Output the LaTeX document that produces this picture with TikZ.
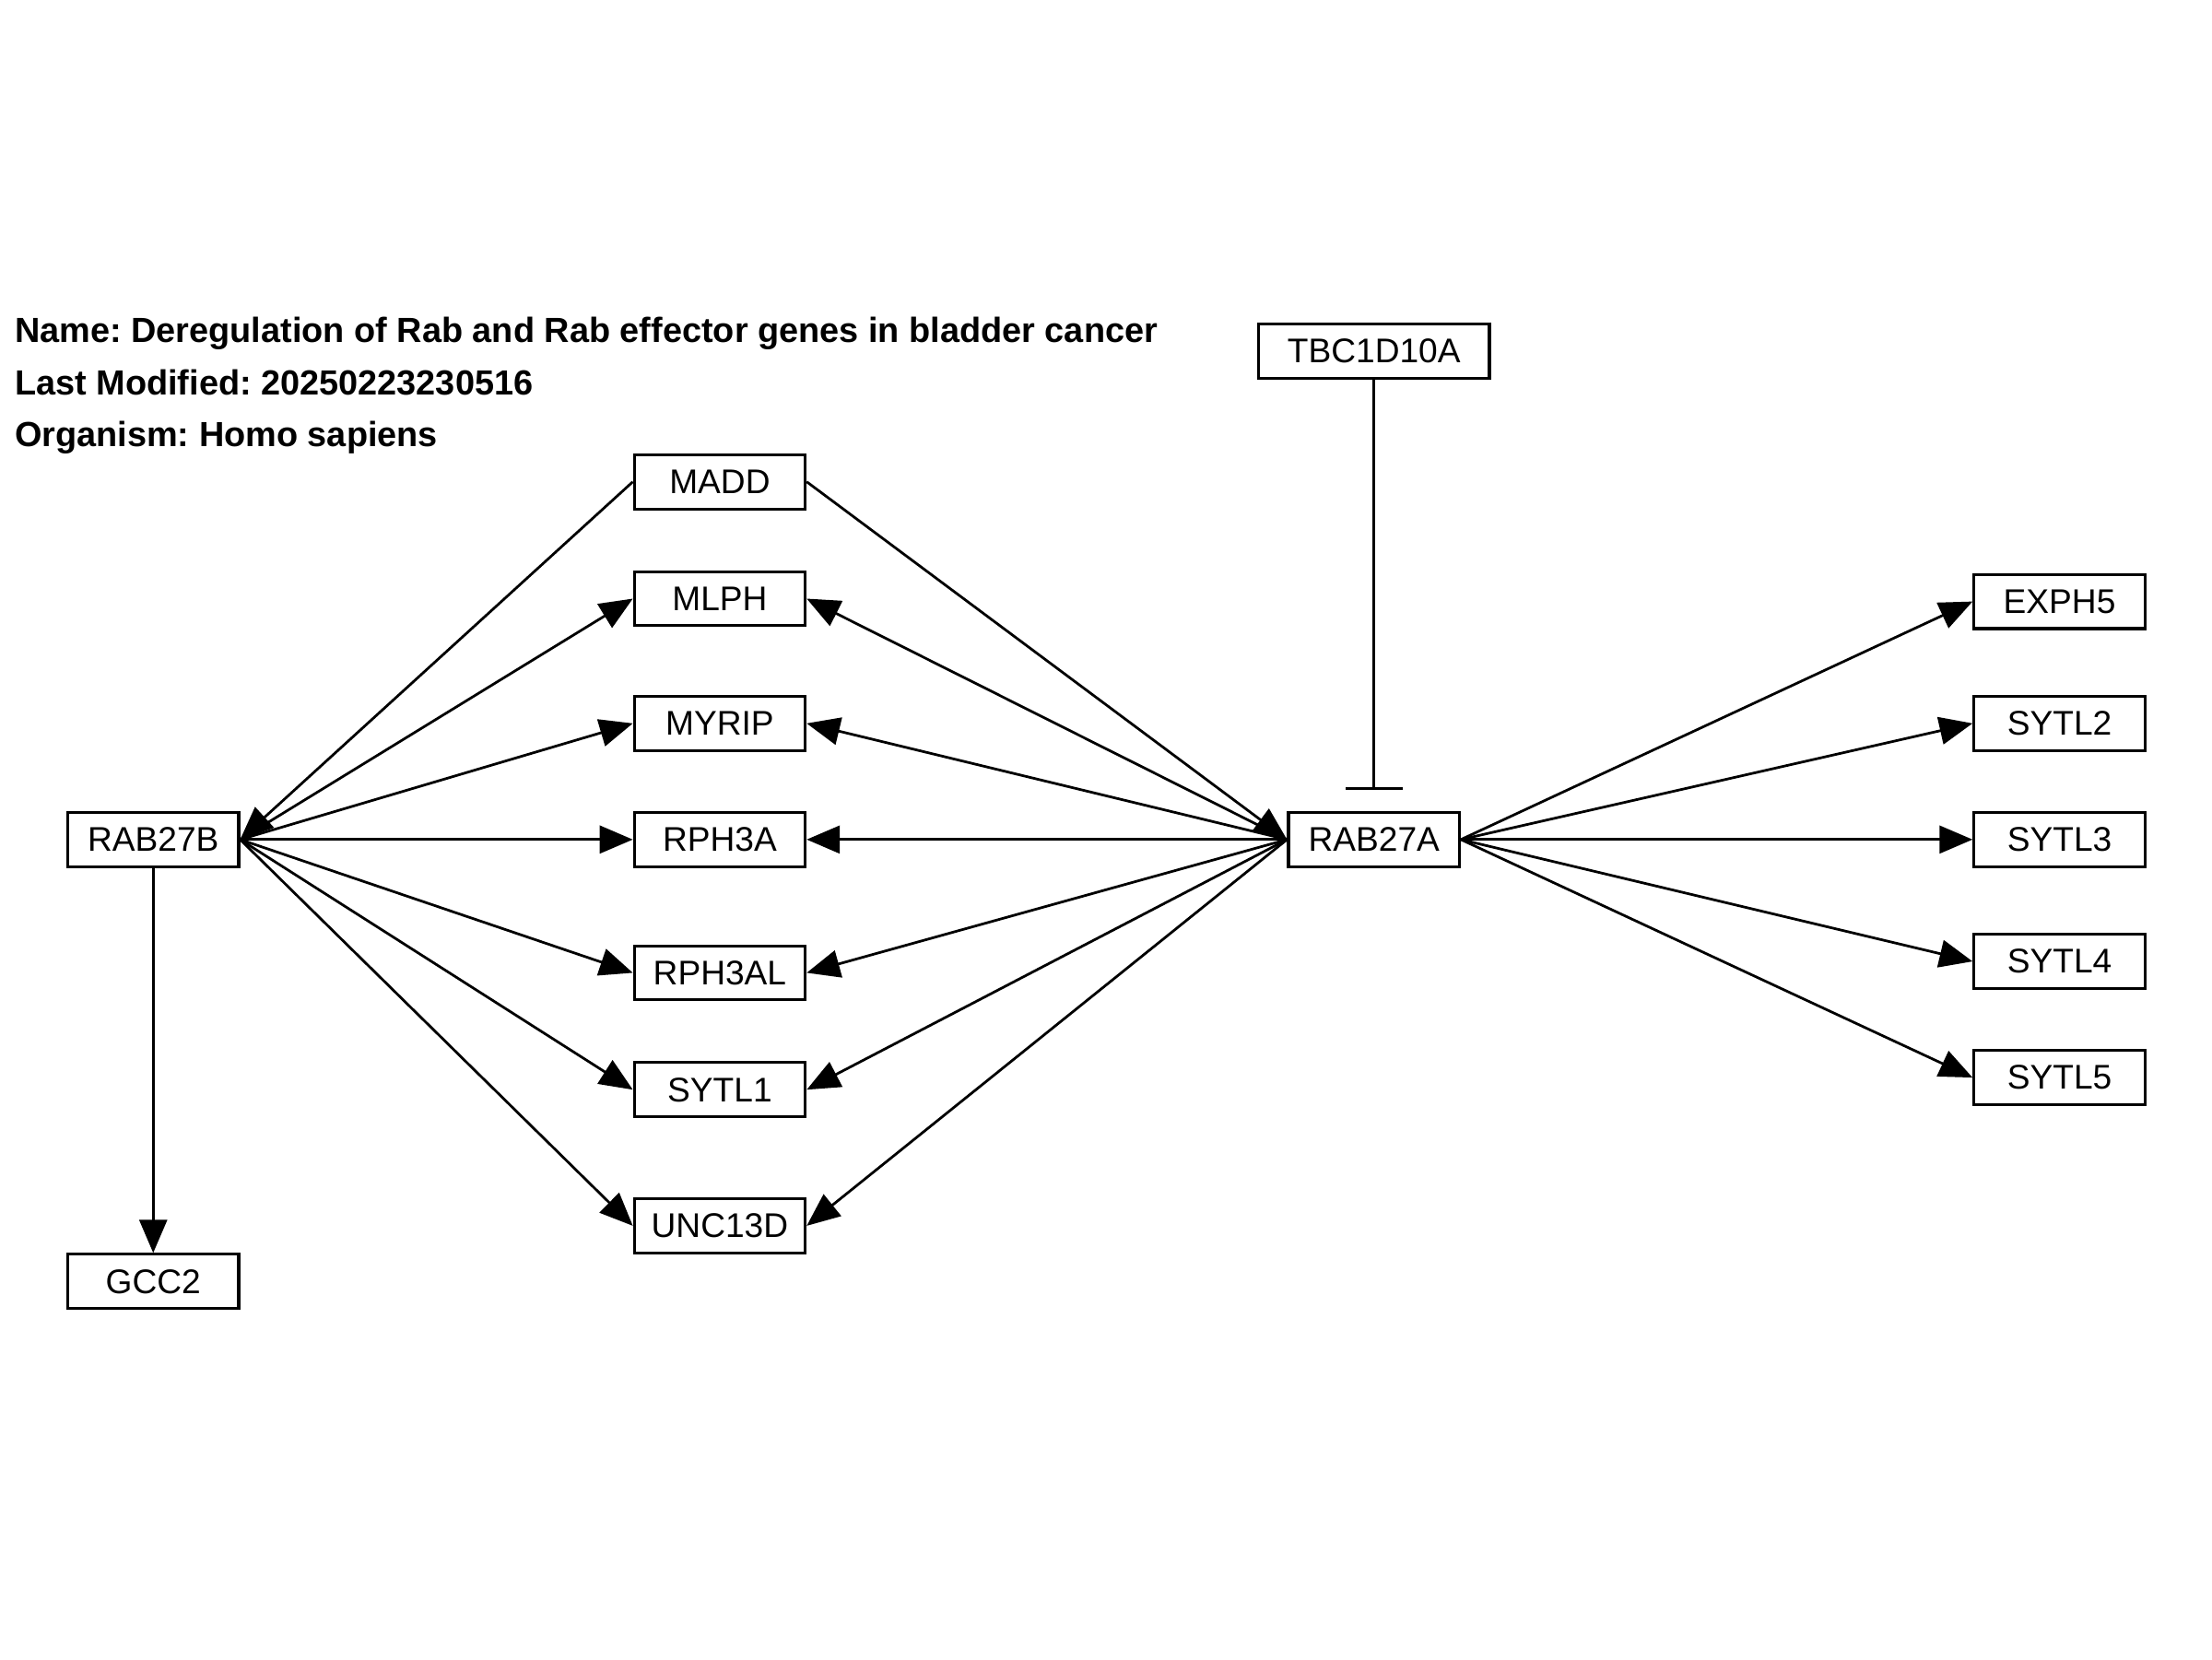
\documentclass[tikz,border=0pt]{standalone}
\usepackage{fontspec}
\setmainfont{Liberation Sans}
\usetikzlibrary{arrows.meta}
\frenchspacing
\begin{document}
\begin{tikzpicture}[x=0.5pt,y=-0.5pt,
  gene/.style={draw=black,line width=1pt,fill=white,minimum width=60pt,minimum height=19pt,inner sep=0pt,font=\fontsize{12}{14}\selectfont},
  act/.style={draw=black,line width=0.9pt,-{Triangle[length=11.6pt,width=9.7pt]}},
  inh/.style={draw=black,line width=0.9pt,-{Bar[width=20pt,line width=0.9pt]},shorten >=7.5pt},
  info/.style={anchor=base west,inner sep=0pt,font=\fontsize{12.25}{14}\selectfont\bfseries}]
\useasboundingbox (0,0) rectangle (1552,1164);
\node[info] (t1) at (10,240) {Name: Deregulation of Rab and Rab effector genes in bladder cancer};
\node[info] (t2) at (10,277) {Last Modified: 20250223230516};
\node[info] (t3) at (10,313) {Organism: Homo sapiens};

\node[gene,minimum width=81pt] (tbc) at (964,246.5) {TBC1D10A};
\node[gene] (madd) at (505,338) {MADD};
\node[gene] (mlph) at (505,420) {MLPH};
\node[gene] (myrip) at (505,507.5) {MYRIP};
\node[gene] (rph3a) at (505,589) {RPH3A};
\node[gene] (rph3al) at (505,682.5) {RPH3AL};
\node[gene] (sytl1) at (505,764.5) {SYTL1};
\node[gene] (unc13d) at (505,860) {UNC13D};
\node[gene] (rab27b) at (107.5,589) {RAB27B};
\node[gene] (gcc2) at (107.5,899) {GCC2};
\node[gene] (rab27a) at (964,589) {RAB27A};
\node[gene] (exph5) at (1445,422) {EXPH5};
\node[gene] (sytl2) at (1445,507.5) {SYTL2};
\node[gene] (sytl3) at (1445,589) {SYTL3};
\node[gene] (sytl4) at (1445,674.5) {SYTL4};
\node[gene] (sytl5) at (1445,756) {SYTL5};

\draw[act] (madd.west) -- (rab27b.east);
\draw[act] (madd.east) -- (rab27a.west);
\foreach \g in {mlph,myrip,rph3a,rph3al,sytl1,unc13d}{
  \draw[act] (rab27b.east) -- (\g.west);
  \draw[act] (rab27a.west) -- (\g.east);
}
\draw[act] (rab27b.south) -- (gcc2.north);
\foreach \g in {exph5,sytl2,sytl3,sytl4,sytl5}{
  \draw[act] (rab27a.east) -- (\g.west);
}
\draw[inh] (tbc.south) -- (rab27a.north);
\end{tikzpicture}
\end{document}
